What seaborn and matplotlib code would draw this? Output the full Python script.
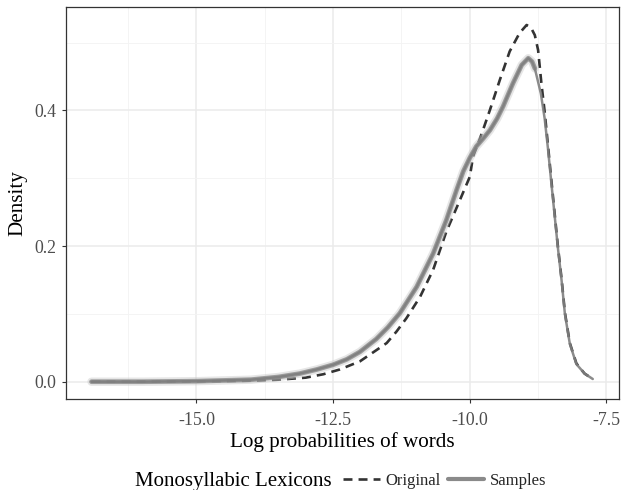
import matplotlib
matplotlib.use("Agg")
import matplotlib.pyplot as plt
from matplotlib.lines import Line2D
from matplotlib.ticker import MultipleLocator
import seaborn as sns
import pandas as pd

# Original lexicon density
orig_x = [-16.92, -16.0, -15.0, -14.0, -13.5, -13.0, -12.68, -12.38, -12.01, -11.70,
          -11.52, -11.34, -11.16, -10.91, -10.67, -10.43, -10.18, -10.0, -9.94, -9.78,
          -9.63, -9.45, -9.27, -9.09, -8.96, -8.88, -8.81, -8.75, -8.69, -8.63,
          -8.57, -8.51, -8.45, -8.39, -8.32, -8.26, -8.17, -8.05, -7.90, -7.75]
orig_y = [0.0, 0.0, 0.0005, 0.0015, 0.003, 0.006, 0.011, 0.018, 0.030, 0.047,
          0.057, 0.074, 0.0935, 0.125, 0.165, 0.221, 0.268, 0.302, 0.332, 0.366,
          0.401, 0.445, 0.487, 0.514, 0.526, 0.522, 0.511, 0.489, 0.440, 0.398,
          0.349, 0.299, 0.250, 0.201, 0.151, 0.102, 0.057, 0.027, 0.012, 0.004]

# Samples density
samp_x = [-16.92, -16.0, -15.0, -14.0, -13.5, -13.11, -12.80, -12.50, -12.25, -12.01,
          -11.71, -11.50, -11.28, -10.97, -10.67, -10.43, -10.24, -10.12, -10.0, -9.88,
          -9.75, -9.63, -9.50, -9.39, -9.21, -9.05, -8.93, -8.86, -8.81, -8.75,
          -8.70, -8.63, -8.57, -8.51, -8.45, -8.39, -8.32, -8.26, -8.17, -8.05,
          -7.90, -7.75]
samp_y = [0.0, 0.0, 0.0008, 0.003, 0.007, 0.012, 0.018, 0.025, 0.033, 0.044,
          0.063, 0.080, 0.101, 0.140, 0.189, 0.238, 0.283, 0.310, 0.330, 0.347,
          0.359, 0.371, 0.388, 0.406, 0.440, 0.467, 0.477, 0.472, 0.462, 0.442,
          0.425, 0.388, 0.344, 0.295, 0.247, 0.199, 0.149, 0.100, 0.056, 0.026,
          0.012, 0.004]

legend_title = "Monosyllabic Lexicons"
labels = ["Original", "Samples"]
x_ticks = [-15.0, -12.5, -10.0, -7.5]
x_ticklabels = ["-15.0", "-12.5", "-10.0", "-7.5"]
y_ticks = [0.0, 0.2, 0.4]
y_ticklabels = ["0.0", "0.2", "0.4"]

sns.set_theme(style="whitegrid")
plt.rcParams["font.family"] = ["Liberation Serif", "DejaVu Serif"]

fig = plt.figure(figsize=(6.21, 4.90), dpi=100)
ax = fig.add_axes([0.1068, 0.185, 0.890, 0.800])

df_o = pd.DataFrame({"x": orig_x, "y": orig_y})
df_s = pd.DataFrame({"x": samp_x, "y": samp_y})
# the spread of the sample curves is visible on the rising side only
df_band = df_s[df_s["x"] <= -8.81]

dash = (0, (3.4, 2.3))
sns.lineplot(data=df_o, x="x", y="y", ax=ax, color="#333333", lw=1.9,
             linestyle=dash, sort=False, estimator=None)
sns.lineplot(data=df_band, x="x", y="y", ax=ax, color="#c8c8c8", lw=6.0, alpha=0.45,
             sort=False, estimator=None, solid_capstyle="round")
sns.lineplot(data=df_band, x="x", y="y", ax=ax, color="#8a8a8a", lw=3.4, alpha=0.8,
             sort=False, estimator=None, solid_capstyle="round")
sns.lineplot(data=df_s, x="x", y="y", ax=ax, color="#7f7f7f", lw=1.8, alpha=0.9,
             sort=False, estimator=None, solid_capstyle="round")

ax.set_xlim(-17.38, -7.27)
ax.set_ylim(-0.026, 0.552)
ax.xaxis.set_minor_locator(MultipleLocator(1.25))
ax.yaxis.set_minor_locator(MultipleLocator(0.1))
ax.set_xticks(x_ticks)
ax.set_xticklabels(x_ticklabels)
ax.set_yticks(y_ticks)
ax.set_yticklabels(y_ticklabels)

ax.grid(which="major", color="#ebebeb", lw=1.1)
ax.grid(which="minor", color="#f3f3f3", lw=0.6)
ax.set_axisbelow(True)
ax.set_facecolor("white")
for s in ax.spines.values():
    s.set_color("#333333")
    s.set_linewidth(0.9)

ax.tick_params(axis="both", which="major", length=3, width=0.8, color="#333333",
               labelsize=12.8, labelcolor="#4d4d4d", bottom=True, left=True)
ax.tick_params(axis="x", which="major", pad=6)
ax.tick_params(axis="y", which="major", pad=4)
ax.tick_params(axis="both", which="minor", length=0)

ax.set_xlabel("Log probabilities of words", fontsize=15.2, color="black", labelpad=2)
ax.set_ylabel("Density", fontsize=15.2, color="black", labelpad=5)

# Legend at the bottom: title inline on the left, keys to the right
fig.text(135 / 621, 1 - 481 / 490, legend_title, fontsize=15, color="black",
         ha="left", va="center")
handles = [Line2D([0], [0], color="#333333", lw=1.9, linestyle=dash),
           Line2D([0], [0], color="#8a8a8a", lw=3.0)]
fig.legend(handles, labels, loc="center left",
           bbox_to_anchor=(343 / 621, 1 - 481 / 490),
           ncol=2, frameon=False, fontsize=12, handlelength=2.2,
           columnspacing=0.4, handletextpad=0.36, borderpad=0, borderaxespad=0)

fig.savefig("out.png", dpi=100)
